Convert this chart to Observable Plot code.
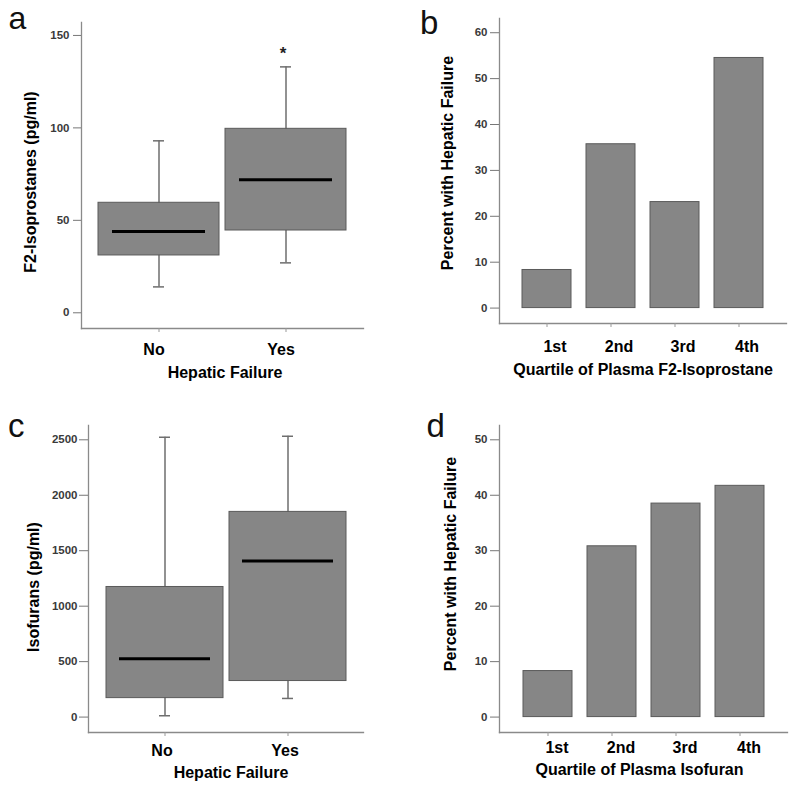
<!DOCTYPE html>
<html><head><meta charset="utf-8">
<script src="https://cdn.jsdelivr.net/npm/d3@7"></script>
<script src="https://cdn.jsdelivr.net/npm/@observablehq/plot@0.6"></script>
<style>
body{margin:0;background:#fff;}
#wrap{position:relative;width:800px;height:788px;background:#fff;font-family:"Liberation Sans",Arial,sans-serif;overflow:hidden;}
.panel{position:absolute;}
.letter{position:absolute;font-size:33px;line-height:27px;color:#111;font-family:"Liberation Sans",Arial,sans-serif;}
</style></head><body><div id="wrap"></div>
<script>
// ---------- Data ----------
const hfGroups = ["No", "Yes"];
// Panel a: F2-Isoprostanes (pg/ml) box plot
const f2Min = [14, 27];
const f2Q1 = [31, 44.5];
const f2Median = [44, 72];
const f2Q3 = [59.5, 99.5];
const f2Max = [93, 133];
const f2Ticks = [0, 50, 100, 150];
const f2Sig = [{group: "Yes", value: 142, text: "*"}];
// Panel b: percent with hepatic failure by F2-isoprostane quartile
const quartiles = ["1st", "2nd", "3rd", "4th"];
const pctF2 = [8.3, 35.7, 23.1, 54.5];
const pctF2Ticks = [0, 10, 20, 30, 40, 50, 60];
// Panel c: Isofurans (pg/ml) box plot
const isoMin = [12, 168];
const isoQ1 = [171, 325];
const isoMedian = [526, 1408];
const isoQ3 = [1173, 1850];
const isoMax = [2523, 2532];
const isoTicks = [0, 500, 1000, 1500, 2000, 2500];
// Panel d: percent with hepatic failure by isofuran quartile
const pctIso = [8.3, 30.8, 38.5, 41.7];
const pctIsoTicks = [0, 10, 20, 30, 40, 50];

const panelLetters = ["a", "b", "c", "d"];

// ---------- Style ----------
const FONT = "Liberation Sans, Arial, sans-serif";
const FILL = "#868686", EDGE = "#5a5a5a", AXIS = "#8a8a8a", TICKTXT = "#3a3a3a";

function commonAxes(o) {
  return [
    Plot.frame({anchor: "left", stroke: AXIS, strokeWidth: 1.3}),
    Plot.frame({anchor: "bottom", stroke: AXIS, strokeWidth: 1.3}),
    Plot.axisY(o.yTicks, {tickSize: o.yTickSize, tickPadding: o.yTickPad, tickFormat: d => String(d),
      fontSize: 11.5, fontWeight: "bold", fill: TICKTXT, stroke: "#777", label: null}),
    Plot.axisX({tickSize: 4, tickPadding: 0, tickFormat: () => "", stroke: "#999", label: null}),
    Plot.axisX({tickSize: 0, tickPadding: o.xTickPad, dx: o.xLabelDx, fontSize: 16, fontWeight: "bold",
      fill: "#000", label: null}),
    Plot.text([o.xTitle], {frameAnchor: "bottom", text: d => d, dx: o.xTitleDx, dy: o.xTitleDy, lineAnchor: "middle",
      textAnchor: "middle", fontSize: 16, fontWeight: "bold", fill: "#000"}),
    Plot.text([o.yTitle], {frameAnchor: "left", text: d => d, rotate: -90, dx: o.yTitleDx, dy: o.yTitleDy,
      lineAnchor: "middle", textAnchor: "middle", fontSize: 16, fontWeight: "bold", fill: "#000"})
  ];
}

function boxPanel(o) {
  const rows = o.groups.map((g, i) => ({g, min: o.mins[i], q1: o.q1s[i], med: o.meds[i], q3: o.q3s[i], max: o.maxs[i]}));
  const extra = o.extra || [];
  return Plot.plot({
    width: o.width, height: o.height,
    marginLeft: o.mL, marginRight: o.mR, marginTop: o.mT, marginBottom: o.mB,
    style: {fontFamily: FONT, background: "transparent", overflow: "visible"},
    x: {type: "band", domain: o.groups, paddingInner: 0.05, paddingOuter: o.padOuter, label: null},
    y: {domain: o.yDomain, label: null},
    marks: [
      ...commonAxes(o),
      Plot.ruleX(rows, {x: "g", y1: "min", y2: "max", stroke: "#6e6e6e", strokeWidth: 1.5}),
      Plot.tickY(rows, {x: "g", y: "min", stroke: "#6e6e6e", strokeWidth: 1.5, insetLeft: o.capInset, insetRight: o.capInset}),
      Plot.tickY(rows, {x: "g", y: "max", stroke: "#6e6e6e", strokeWidth: 1.5, insetLeft: o.capInset, insetRight: o.capInset}),
      Plot.barY(rows, {x: "g", y1: "q1", y2: "q3", fill: FILL, stroke: EDGE, strokeWidth: 1}),
      Plot.tickY(rows, {x: "g", y: "med", stroke: "#000", strokeWidth: 3, insetLeft: o.medInset, insetRight: o.medInset}),
      ...extra
    ]
  });
}

function barPanel(o) {
  const rows = o.cats.map((c, i) => ({c, v: o.values[i]}));
  return Plot.plot({
    width: o.width, height: o.height,
    marginLeft: o.mL, marginRight: o.mR, marginTop: o.mT, marginBottom: o.mB,
    style: {fontFamily: FONT, background: "transparent", overflow: "visible"},
    x: {type: "band", domain: o.cats, paddingInner: 0.24, paddingOuter: 0.345, label: null},
    y: {domain: o.yDomain, label: null},
    marks: [
      ...commonAxes(o),
      Plot.barY(rows, {x: "c", y1: 0, y2: "v", fill: FILL, stroke: EDGE, strokeWidth: 1})
    ]
  });
}

const wrap = document.getElementById("wrap");
function place(node, left, top) {
  const d = document.createElement("div");
  d.className = "panel";
  d.style.left = left + "px";
  d.style.top = top + "px";
  d.appendChild(node);
  wrap.appendChild(d);
}

// Panel a
place(boxPanel({
  width: 400, height: 390, mL: 81, mR: 37, mT: 22, mB: 62,
  groups: hfGroups, mins: f2Min, q1s: f2Q1, meds: f2Median, q3s: f2Q3, maxs: f2Max,
  yDomain: [-8.5, 157], yTicks: f2Ticks, padOuter: 0.13, capInset: 55, medInset: 14,
  yTickSize: 8, yTickPad: 4, xTickPad: 15, xLabelDx: -5,
  xTitle: "Hepatic Failure", xTitleDx: 2.5, xTitleDy: 44,
  yTitle: "F2-Isoprostanes (pg/ml)", yTitleDx: -51, yTitleDy: 6.5,
  extra: [Plot.text(f2Sig, {x: "group", y: "value", text: "text", dx: -3, dy: 3, fontSize: 17, fontWeight: "bold", fill: "#222"})]
}), 0, 0);

// Panel b
place(barPanel({
  width: 400, height: 390, mL: 99, mR: 14, mT: 18, mB: 67,
  cats: quartiles, values: pctF2, yDomain: [-3.36, 63.1], yTicks: pctF2Ticks,
  yTickSize: 9, yTickPad: 3, xTickPad: 17, xLabelDx: 8,
  xTitle: "Quartile of Plasma F2-Isoprostane", xTitleDx: 0, xTitleDy: 46,
  yTitle: "Percent with Hepatic Failure", yTitleDx: -52, yTitleDy: -8
}), 400, 0);

// Panel c
place(boxPanel({
  width: 400, height: 398, mL: 88, mR: 37, mT: 35, mB: 56,
  groups: hfGroups, mins: isoMin, q1s: isoQ1, meds: isoMedian, q3s: isoQ3, maxs: isoMax,
  yDomain: [-139, 2629], yTicks: isoTicks, padOuter: 0.134, capInset: 53, medInset: 13,
  yTickSize: 9, yTickPad: 2, xTickPad: 12, xLabelDx: -3,
  xTitle: "Hepatic Failure", xTitleDx: 5, xTitleDy: 40,
  yTitle: "Isofurans (pg/ml)", yTitleDx: -55, yTitleDy: 8
}), 0, 390);

// Panel d
place(barPanel({
  width: 400, height: 398, mL: 99, mR: 13, mT: 35, mB: 56,
  cats: quartiles, values: pctIso, yDomain: [-2.78, 52.58], yTicks: pctIsoTicks,
  yTickSize: 9, yTickPad: 3, xTickPad: 9, xLabelDx: 9,
  xTitle: "Quartile of Plasma Isofuran", xTitleDx: -4, xTitleDy: 37.5,
  yTitle: "Percent with Hepatic Failure", yTitleDx: -49, yTitleDy: -15
}), 400, 390);

// Panel letters
const letterPos = [[8.5, 4.5, 32], [420, 8.5, 33], [8, 412, 33], [426.5, 412, 33]];
panelLetters.forEach((t, i) => {
  const s = document.createElement("div");
  s.className = "letter";
  s.textContent = t;
  s.style.left = letterPos[i][0] + "px";
  s.style.top = letterPos[i][1] + "px";
  s.style.fontSize = letterPos[i][2] + "px";
  wrap.appendChild(s);
});
</script>
</body></html>
